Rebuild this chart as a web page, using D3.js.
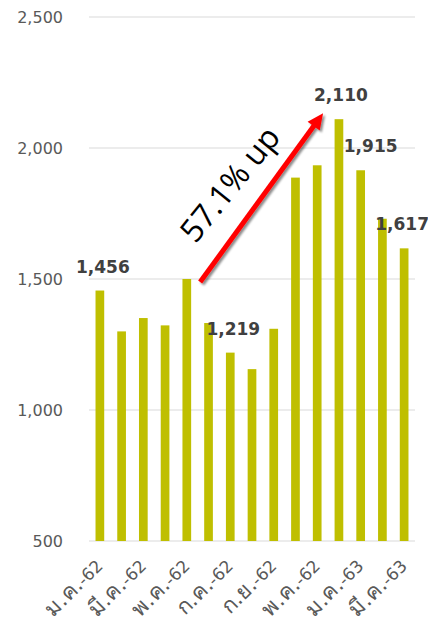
<!DOCTYPE html>
<html>
<head>
<meta charset="utf-8">
<script src="https://cdn.jsdelivr.net/npm/d3@7"></script>
<style>
  body { margin: 0; background: #fff; }
  svg { display: block; }
</style>
</head>
<body>
<div id="chart"></div>
<script>
// monthly values (Jan 62 .. Mar 63)
var months = ["ม.ค.-62", "ก.พ.-62", "มี.ค.-62", "เม.ย.-62", "พ.ค.-62", "มิ.ย.-62", "ก.ค.-62",
              "ส.ค.-62", "ก.ย.-62", "ต.ค.-62", "พ.ค.-62", "ธ.ค.-62", "ม.ค.-63", "ก.พ.-63", "มี.ค.-63"];
var values = [1456, 1300, 1351, 1323, 1500, 1332, 1219, 1156, 1310, 1887, 1934, 2110, 1915, 1730, 1617];
var yTicks = [500, 1000, 1500, 2000, 2500];
var labeled = [0, 6, 11, 12, 14];   // bars that carry a value label
var arrowFrom = 4, arrowTo = 11;
var arrowText = "57.1% up";

var totalWidth = 428, totalHeight = 633;
var plot = {left: 89, right: 415, top: 17, bottom: 541};

var svg = d3.select("#chart")
  .append("svg")
    .attr("width", totalWidth)
    .attr("height", totalHeight);

var x = d3.scaleBand()
    .domain(d3.range(values.length))
    .range([plot.left, plot.right])
    .paddingInner(0.6)
    .paddingOuter(0.3);

var y = d3.scaleLinear()
    .domain([500, 2500])
    .range([plot.bottom, plot.top]);

// gridlines
svg.append("g")
  .selectAll("line")
  .data(yTicks)
  .enter()
  .append("line")
    .attr("x1", plot.left)
    .attr("x2", plot.right)
    .attr("y1", function(d) { return y(d); })
    .attr("y2", function(d) { return y(d); })
    .attr("stroke", "#d9d9d9")
    .attr("stroke-width", 1);

// y axis labels
var fmt = d3.format(",");
svg.append("g")
  .selectAll("text")
  .data(yTicks)
  .enter()
  .append("text")
    .attr("x", plot.left - 26)
    .attr("y", function(d) { return y(d); })
    .attr("dy", "0.36em")
    .style("text-anchor", "end")
    .style("font-family", "'DejaVu Sans', sans-serif")
    .style("font-size", "16px")
    .style("fill", "#595959")
    .text(function(d) { return fmt(d); });

// bars
svg.append("g")
  .selectAll("rect")
  .data(values)
  .enter()
  .append("rect")
    .attr("x", function(d, i) { return x(i); })
    .attr("y", function(d) { return y(d); })
    .attr("width", x.bandwidth())
    .attr("height", function(d) { return plot.bottom - y(d); })
    .style("fill", "#bfbf00");

// x labels, every other month (thai part a bit larger, fallback font is small)
var xl = svg.append("g")
  .selectAll("text")
  .data(d3.range(0, months.length, 2))
  .enter()
  .append("text")
    .attr("transform", function(i) {
      return "translate(" + (x(i) + x.bandwidth() / 2 + 4) + "," + 567 + ") rotate(-45)";
    })
    .style("text-anchor", "end")
    .style("font-family", "'DejaVu Sans', 'Noto Sans', sans-serif")
    .style("font-size", "17px")
    .style("fill", "#595959");
xl.append("tspan")
    .style("font-size", "22px")
    .text(function(i) { return months[i].split("-")[0]; });
xl.append("tspan")
    .text(function(i) { return "-" + months[i].split("-")[1]; });

// value labels
var labelDx = [3, 3, 2, 10, -2];
svg.append("g")
  .selectAll("text")
  .data(labeled)
  .enter()
  .append("text")
    .attr("x", function(i, k) { return x(i) + x.bandwidth() / 2 + labelDx[k]; })
    .attr("y", function(i) { return y(values[i]) - 18; })
    .style("text-anchor", "middle")
    .style("font-family", "'DejaVu Sans', sans-serif")
    .style("font-weight", "bold")
    .style("font-size", "17px")
    .style("fill", "#404040")
    .text(function(i) { return fmt(values[i]); });

// arrow annotation
var defs = svg.append("defs");
var f = defs.append("filter").attr("id", "shadow")
    .attr("x", "-20%").attr("y", "-20%").attr("width", "140%").attr("height", "140%");
f.append("feDropShadow")
    .attr("dx", 2).attr("dy", 2).attr("stdDeviation", 1)
    .attr("flood-color", "#000").attr("flood-opacity", 0.45);

var x0 = x(arrowFrom) + x.bandwidth() + 9, y0 = y(values[arrowFrom]) + 3;
var x1 = x(arrowTo) - 11.5, y1 = y(values[arrowTo]) - 6;
var ang = Math.atan2(y1 - y0, x1 - x0);
var headLen = 16, headW = 7.5;
var bx = x1 - headLen * Math.cos(ang), by = y1 - headLen * Math.sin(ang);
var px = -Math.sin(ang), py = Math.cos(ang);

var arrow = svg.append("g").attr("filter", "url(#shadow)");
arrow.append("line")
    .attr("x1", x0).attr("y1", y0)
    .attr("x2", bx + 2 * Math.cos(ang)).attr("y2", by + 2 * Math.sin(ang))
    .attr("stroke", "#ff0000")
    .attr("stroke-width", 5);
arrow.append("path")
    .attr("d", "M" + x1 + "," + y1 +
               "L" + (bx + px * headW) + "," + (by + py * headW) +
               "L" + (bx - px * headW) + "," + (by - py * headW) + "Z")
    .attr("fill", "#ff0000");

svg.append("text")
    .attr("transform", "translate(230,184) rotate(-51)")
    .attr("dy", "0.35em")
    .style("text-anchor", "middle")
    .style("font-family", "'Open Sans', sans-serif")
    .style("font-size", "32px")
    .style("fill", "#000")
    .text(arrowText);
</script>
</body>
</html>
